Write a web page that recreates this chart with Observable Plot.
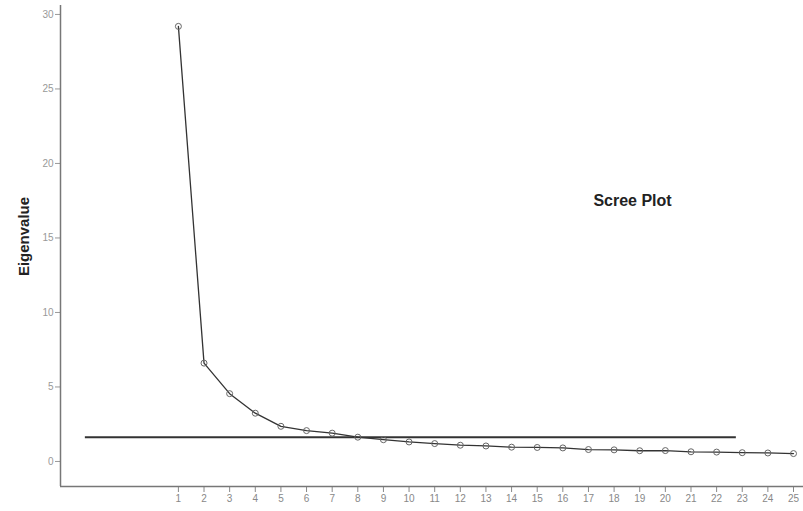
<!DOCTYPE html>
<html>
<head>
<meta charset="utf-8">
<script src="https://cdn.jsdelivr.net/npm/d3@7"></script>
<script src="https://cdn.jsdelivr.net/npm/@observablehq/plot@0.6"></script>
<style>
  html, body { margin: 0; padding: 0; background: #fff; }
  #chart { width: 803px; height: 511px; }
  svg { font-family: "Liberation Sans", Arial, sans-serif; }
</style>
</head>
<body>
<div id="chart"></div>
<script>
// Component numbers and eigenvalues
const components = [1,2,3,4,5,6,7,8,9,10,11,12,13,14,15,16,17,18,19,20,21,22,23,24,25];
const eigenvalues = [29.2,6.6,4.55,3.24,2.36,2.07,1.9,1.63,1.46,1.31,1.2,1.09,1.04,0.96,0.94,0.91,0.8,0.78,0.72,0.73,0.65,0.63,0.59,0.57,0.53];
const xTicks = components;
const yTicks = [0,5,10,15,20,25,30];
const cutoffValue = 1.63;
const cutoffStart = -2.63;
const cutoffEnd = 22.77;
const titleText = "Scree Plot";
const yLabel = "Eigenvalue";

const data = components.map((c, i) => ({component: c, eigenvalue: eigenvalues[i]}));
const xDomain = [-3.6, 25.39];
const yDomain = [-1.68, 30.6];

const chart = Plot.plot({
  width: 803,
  height: 511,
  marginLeft: 60,
  marginRight: 0,
  marginTop: 5,
  marginBottom: 25,
  style: {background: "#fff", fontFamily: "Liberation Sans, Arial, sans-serif"},
  x: {domain: xDomain, axis: null},
  y: {domain: yDomain, axis: null},
  marks: [
    Plot.axisX({ticks: xTicks, tickSize: 6, tickPadding: 2, fontSize: 10, color: "#888", tickFormat: d => String(d), anchor: "bottom", label: null}),
    Plot.axisY({ticks: yTicks, tickSize: 5, tickPadding: 2, fontSize: 10, color: "#999", anchor: "left", label: null}),
    Plot.ruleX([xDomain[0]], {stroke: "#777", strokeWidth: 1.5}),
    Plot.ruleY([yDomain[0]], {stroke: "#777", strokeWidth: 1.5}),
    Plot.ruleY([cutoffValue], {x1: cutoffStart, x2: cutoffEnd, stroke: "#333", strokeWidth: 2}),
    Plot.line(data, {x: "component", y: "eigenvalue", stroke: "#333", strokeWidth: 1.3}),
    Plot.dot(data, {x: "component", y: "eigenvalue", r: 3, stroke: "#666", strokeWidth: 1, fill: "none", symbol: "circle"}),
    Plot.text([titleText], {frameAnchor: "top-left", dx: 572, dy: 189, text: d => d, fontSize: 16, fontWeight: "bold", fill: "#222", textAnchor: "middle"}),
    Plot.text([yLabel], {frameAnchor: "top-left", dx: -42, dy: 231, text: d => d, rotate: -90, fontSize: 15, fontWeight: "bold", fill: "#222", textAnchor: "middle"})
  ]
});
document.getElementById("chart").appendChild(chart);
</script>
</body>
</html>
